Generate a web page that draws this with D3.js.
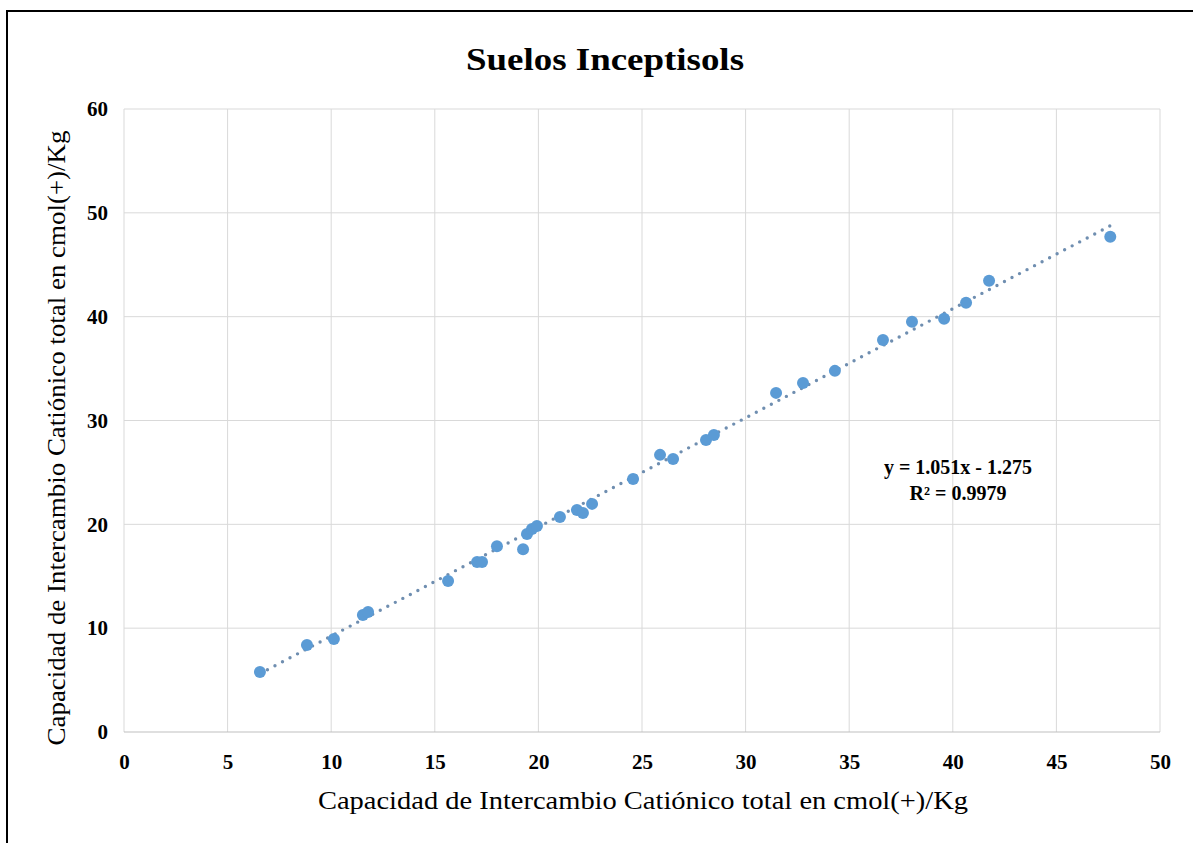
<!DOCTYPE html>
<html lang="en">
<head>
<meta charset="utf-8">
<title>Suelos Inceptisols</title>
<script src="https://d3js.org/d3.v7.min.js"></script>
<style>
  body { margin: 0; background: #fff; }
  text { font-family: "Liberation Serif", "Times New Roman", serif; fill: #000; }
</style>
</head>
<body>
<script>
  // measured CIC vs. computed CIC (cmol(+)/Kg)
  const xVals = [6.56, 8.83, 10.13, 11.53, 11.78, 15.64, 17.04, 17.28, 18.0, 19.26,
                 19.45, 19.69, 19.93, 21.04, 21.86, 22.15, 22.59, 24.57, 25.87, 26.5,
                 28.09, 28.47, 31.47, 32.77, 34.31, 36.63, 38.03, 39.58, 40.64, 41.75, 47.6];
  const yVals = [5.78, 8.38, 8.96, 11.27, 11.56, 14.55, 16.38, 16.38, 17.9, 17.6,
                 19.07, 19.56, 19.85, 20.7, 21.39, 21.1, 21.97, 24.37, 26.69, 26.3,
                 28.13, 28.61, 32.66, 33.62, 34.78, 37.76, 39.5, 39.79, 41.33, 43.45, 47.7];
  const xTicks = [0, 5, 10, 15, 20, 25, 30, 35, 40, 45, 50];
  const yTicks = [0, 10, 20, 30, 40, 50, 60];
  const slope = 1.051, intercept = -1.275;
  const eqLines = ["y = 1.051x - 1.275", "R² = 0.9979"];

  const W = 1193, H = 843;
  const m = {left: 124, right: W - 1160, top: 109, bottom: H - 732};

  const svg = d3.select("body").append("svg").attr("width", W).attr("height", H);

  // chart border
  svg.append("rect").attr("x", 7).attr("y", 11).attr("width", W).attr("height", H)
      .attr("fill", "none").attr("stroke", "#000").attr("stroke-width", 2);

  const x = d3.scaleLinear().domain([0, 50]).range([m.left, W - m.right]);
  const y = d3.scaleLinear().domain([0, 60]).range([H - m.bottom, m.top]);

  // gridlines
  svg.append("g").selectAll("line").data(xTicks).enter().append("line")
      .attr("x1", d => x(d)).attr("x2", d => x(d))
      .attr("y1", y(0)).attr("y2", y(60))
      .attr("stroke", "#d9d9d9").attr("stroke-width", 1);
  svg.append("g").selectAll("line").data(yTicks).enter().append("line")
      .attr("x1", x(0)).attr("x2", x(50))
      .attr("y1", d => y(d)).attr("y2", d => y(d))
      .attr("stroke", d => d === 0 ? "#bfbfbf" : "#d9d9d9").attr("stroke-width", 1);

  // axes (labels only)
  const xAxis = svg.append("g").attr("transform", `translate(0,${y(0)})`)
      .call(d3.axisBottom(x).tickValues(xTicks).tickSize(0).tickPadding(22));
  const yAxis = svg.append("g").attr("transform", `translate(${x(0)},0)`)
      .call(d3.axisLeft(y).tickValues(yTicks).tickSize(0).tickPadding(16));
  [xAxis, yAxis].forEach(a => {
    a.select(".domain").remove();
    a.selectAll("text").style("font-family", "'Liberation Serif', serif")
        .style("font-size", "21px").style("font-weight", "bold").attr("fill", "#000");
  });

  // trendline
  const x0 = d3.min(xVals), x1 = d3.max(xVals);
  svg.append("line")
      .attr("x1", x(x0)).attr("y1", y(slope * x0 + intercept))
      .attr("x2", x(x1)).attr("y2", y(slope * x1 + intercept))
      .attr("stroke", "#6f8eb0").attr("stroke-width", 3.4)
      .attr("stroke-linecap", "round").attr("stroke-dasharray", "0,8.5");

  // points
  svg.append("g").selectAll("circle").data(xVals).enter().append("circle")
      .attr("cx", d => x(d)).attr("cy", (d, i) => y(yVals[i]))
      .attr("r", 6).attr("fill", "#5b9bd5");

  // title
  svg.append("text").attr("x", 605).attr("y", 70).attr("text-anchor", "middle")
      .attr("textLength", 278).attr("lengthAdjust", "spacingAndGlyphs")
      .style("font-size", "32px").style("font-weight", "bold").text("Suelos Inceptisols");

  // axis titles
  const axisTitle = "Capacidad de Intercambio Catiónico total en cmol(+)/Kg";
  svg.append("text").attr("x", 643).attr("y", 809).attr("text-anchor", "middle")
      .attr("textLength", 650).attr("lengthAdjust", "spacingAndGlyphs")
      .style("font-size", "25px").text(axisTitle);
  svg.append("text").attr("transform", "translate(65,438) rotate(-90)").attr("text-anchor", "middle")
      .attr("textLength", 615).attr("lengthAdjust", "spacingAndGlyphs")
      .style("font-size", "25px").text(axisTitle);

  // equation
  svg.append("g").selectAll("text").data(eqLines).enter().append("text")
      .attr("x", 958).attr("y", (d, i) => 474 + i * 26).attr("text-anchor", "middle")
      .style("font-size", "20px").style("font-weight", "bold").text(d => d);
</script>
</body>
</html>
